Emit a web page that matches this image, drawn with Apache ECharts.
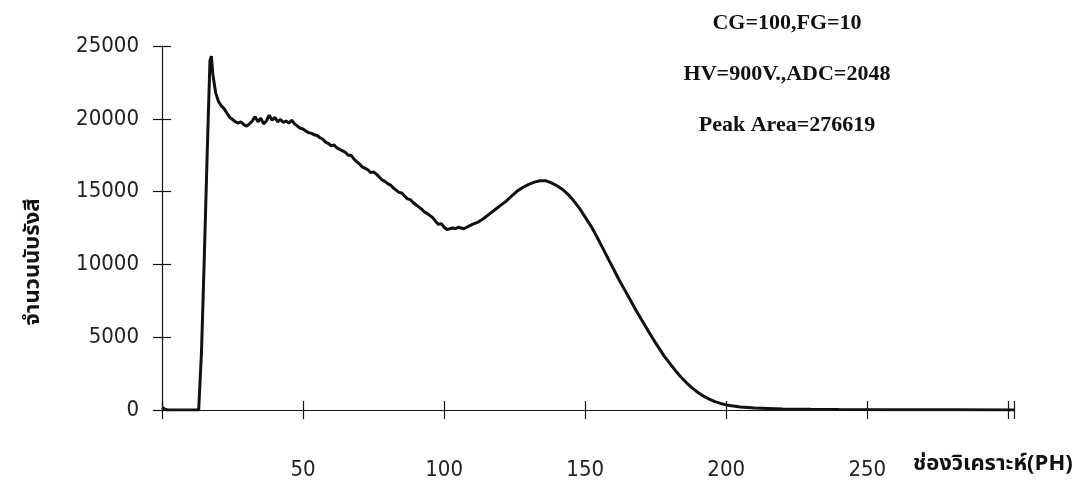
<!DOCTYPE html>
<html>
<head>
<meta charset="utf-8">
<script src="https://cdn.jsdelivr.net/npm/echarts@6/dist/echarts.min.js"></script>
<style>
  html, body { margin: 0; padding: 0; background: #ffffff; }
  #chart { width: 1081px; height: 487px; }
</style>
</head>
<body>
<div id="chart"></div>
<script>
// pulse height channel (x) and counts (y)
const channels = [
  0, 1, 2, 6, 10, 13, 14, 15, 16, 17, 17.5, 18, 19, 20, 21, 22, 23, 24, 25, 26,
  27, 28, 29, 30, 31, 32, 33, 34, 35, 36, 37, 38, 39, 40, 41, 42, 43, 44, 45, 46,
  47, 48, 49, 50, 51, 52, 53, 54, 55, 56, 57, 58, 59, 60, 61, 62, 63, 64, 65, 66,
  67, 68, 69, 70, 71, 72, 73, 74, 75, 76, 77, 78, 79, 80, 81, 82, 83, 84, 85, 86,
  87, 88, 89, 90, 91, 92, 93, 94, 95, 96, 97, 98, 99, 100, 101, 102, 103, 104, 105, 106,
  107, 108, 109, 110, 112, 114, 116, 118, 120, 122, 124, 126, 128, 130, 132, 134, 136, 138, 140, 142,
  144, 146, 148, 150, 152, 154, 156, 158, 160, 162, 164, 166, 168, 170, 172, 174, 176, 178, 180, 182,
  184, 186, 188, 190, 192, 194, 196, 198, 200, 205, 210, 220, 230, 240, 260, 280, 302
];
const counts = [
  180, 60, 0, 0, 0, 0, 4000, 10500, 17500, 24000, 24300, 23100, 21800, 21200, 20900, 20700, 20400, 20100, 19950, 19800,
  19700, 19800, 19600, 19500, 19650, 19850, 20150, 19800, 20050, 19650, 19850, 20250, 19900, 20100, 19800, 19950, 19750, 19850, 19700, 19900,
  19650, 19500, 19350, 19300, 19150, 19050, 19000, 18900, 18850, 18700, 18600, 18400, 18300, 18150, 18200, 18000, 17900, 17800, 17700, 17500,
  17500, 17250, 17050, 16900, 16700, 16600, 16500, 16300, 16350, 16200, 16000, 15800, 15700, 15550, 15450, 15250, 15100, 14950, 14900, 14700,
  14500, 14450, 14250, 14100, 13950, 13800, 13600, 13500, 13350, 13200, 12950, 12750, 12800, 12550, 12400, 12450, 12500, 12450, 12550, 12500,
  12450, 12550, 12650, 12750, 12900, 13150, 13450, 13750, 14050, 14350, 14700, 15050, 15300, 15500, 15650, 15750, 15750, 15600, 15400, 15150,
  14800, 14350, 13850, 13250, 12650, 11950, 11200, 10450, 9700, 8950, 8250, 7550, 6850, 6200, 5550, 4900, 4300, 3700, 3200, 2700,
  2250, 1850, 1500, 1200, 950, 750, 580, 450, 350, 200, 130, 70, 50, 40, 25, 15, 0
];
const yTicks = [0, 5000, 10000, 15000, 20000, 25000];
const xTicks = [50, 100, 150, 200, 250];
const notes = ['CG=100,FG=10', 'HV=900V.,ADC=2048', 'Peak Area=276619'];
const xName = 'ช่องวิเคราะห์(PH)';
const yName = 'จำนวนนับรังสี';

const ink = '#111111';
const numFont = '"Liberation Sans Narrow", "Arial Narrow", "DejaVu Sans Condensed", sans-serif';
const thaiFont = '"Noto Sans Thai", "Noto Serif Thai", "Noto Sans", "DejaVu Sans", sans-serif';
const noteFont = 'bold 22px "Liberation Serif", serif';

const chart = echarts.init(document.getElementById('chart'), null, { renderer: 'canvas' });

const option = {
  animation: false,
  backgroundColor: '#ffffff',
  grid: { left: 162, right: 67, top: 46, bottom: 77 },
  xAxis: [
    {
      type: 'value', min: 0, max: 302, interval: 50, position: 'bottom',
      axisLine: { show: true, lineStyle: { color: ink, width: 1.2 } },
      axisTick: { show: true, length: 9, lineStyle: { color: ink, width: 1.2 } },
      axisLabel: {
        margin: 49, color: '#222', fontFamily: numFont, fontSize: 22,
        formatter: v => xTicks.indexOf(v) >= 0 ? String(v) : ''
      },
      splitLine: { show: false }
    },
    {
      type: 'value', min: 0, max: 302, interval: 50, position: 'bottom',
      axisLine: { show: false },
      axisTick: { show: true, inside: true, length: 9, lineStyle: { color: ink, width: 1.2 } },
      axisLabel: { show: false },
      splitLine: { show: false }
    }
  ],
  yAxis: [
    {
      type: 'value', min: 0, max: 25000, interval: 5000, position: 'left',
      axisLine: { show: true, lineStyle: { color: ink, width: 1.2 } },
      axisTick: { show: true, length: 9, lineStyle: { color: ink, width: 1.2 } },
      axisLabel: {
        margin: 23, color: '#222', fontFamily: numFont, fontSize: 22,
        formatter: v => yTicks.indexOf(v) >= 0 ? String(v) : ''
      },
      splitLine: { show: false },
      name: yName, nameLocation: 'middle', nameRotate: 90, nameGap: 116,
      nameTextStyle: { color: '#111', fontFamily: thaiFont, fontSize: 22, fontWeight: 'bold', padding: [0, 68, 0, 0] }
    },
    {
      type: 'value', min: 0, max: 25000, interval: 5000, position: 'left',
      axisLine: { show: false },
      axisTick: { show: true, inside: true, length: 9, lineStyle: { color: ink, width: 1.2 } },
      axisLabel: { show: false },
      splitLine: { show: false }
    }
  ],
  graphic: [
    {
      type: 'text', left: 913, top: 455,
      style: { text: xName, fill: '#111', font: 'bold 22px ' + thaiFont }
    },
    {
      type: 'text', x: 787, y: 23,
      style: { text: notes[0], fill: '#111', font: noteFont, textAlign: 'center', textVerticalAlign: 'middle' }
    },
    {
      type: 'text', x: 787, y: 74,
      style: { text: notes[1], fill: '#111', font: noteFont, textAlign: 'center', textVerticalAlign: 'middle' }
    },
    {
      type: 'text', x: 787, y: 125,
      style: { text: notes[2], fill: '#111', font: noteFont, textAlign: 'center', textVerticalAlign: 'middle' }
    }
  ],
  series: [
    {
      type: 'line',
      xAxisIndex: 0, yAxisIndex: 0,
      data: channels.map((c, i) => [c, counts[i]]),
      showSymbol: false,
      smooth: false,
      lineStyle: { color: ink, width: 3 },
      z: 5
    }
  ]
};

chart.setOption(option);
</script>
</body>
</html>
